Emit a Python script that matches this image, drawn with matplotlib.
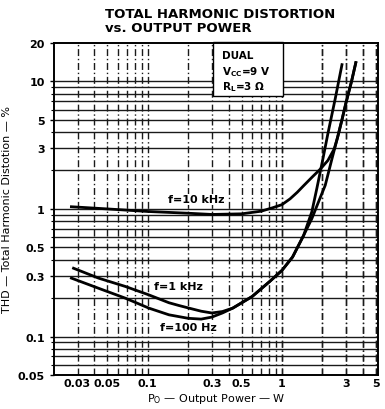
import numpy as np
import matplotlib
matplotlib.use("Agg")
import matplotlib.pyplot as plt
from matplotlib.ticker import FixedLocator, NullFormatter
from matplotlib.patches import Rectangle

plt.rcParams['mathtext.default'] = 'regular'
plt.rcParams['font.family'] = ['DejaVu Sans']

# THD curves (P in W, THD in %)
p_10k = [0.027, 0.05, 0.1, 0.2, 0.3, 0.5, 0.7, 0.85, 1.0, 1.15, 1.3, 1.45, 1.7, 1.93,
         2.2, 2.45, 2.6, 2.8, 3.0, 3.3, 3.55]
thd_10k = [1.04, 1.0, 0.955, 0.925, 0.905, 0.915, 0.96, 1.02, 1.08, 1.2, 1.35, 1.52, 1.8, 2.05,
           2.4, 2.95, 3.65, 5.0, 6.8, 10.0, 14.0]

p_1k = [0.028, 0.043, 0.068, 0.102, 0.144, 0.171, 0.203, 0.25, 0.30, 0.36, 0.43, 0.6,
        0.81, 1.0, 1.2, 1.45, 1.67, 1.82, 2.0, 2.2, 2.5, 2.8]
thd_1k = [0.343, 0.287, 0.247, 0.212, 0.184, 0.175, 0.167, 0.158, 0.153, 0.157, 0.167, 0.206,
          0.27, 0.33, 0.42, 0.62, 0.95, 1.45, 2.35, 3.9, 7.4, 13.5]

p_100 = [0.027, 0.043, 0.068, 0.102, 0.144, 0.2, 0.25, 0.3, 0.36, 0.43, 0.6, 0.81, 1.0,
         1.2, 1.45, 1.67, 1.85, 2.1, 2.36, 2.58, 2.8, 3.0, 3.3, 3.55]
thd_100 = [0.287, 0.239, 0.2, 0.167, 0.148, 0.139, 0.137, 0.142, 0.153, 0.167, 0.206, 0.27, 0.33,
           0.42, 0.62, 0.84, 1.1, 1.53, 2.48, 3.55, 5.0, 6.8, 10.0, 14.0]

x_ticks = [0.03, 0.05, 0.1, 0.3, 0.5, 1, 3, 5]
x_labels = ["0.03", "0.05", "0.1", "0.3", "0.5", "1", "3", "5"]
y_ticks = [0.05, 0.1, 0.3, 0.5, 1, 3, 5, 10, 20]
y_labels = ["0.05", "0.1", "0.3", "0.5", "1", "3", "5", "10", "20"]

fig = plt.figure(figsize=(3.85, 4.10), dpi=100)
ax = fig.add_axes([0.140, 0.083, 0.842, 0.810])
ax.set_xscale('log')
ax.set_yscale('log')
ax.set_xlim(0.02, 5.2)
ax.set_ylim(0.05, 20)

# grid: solid horizontals, broken verticals
yg = [m * 10.0**e for e in range(-2, 2) for m in range(1, 10)]
yg = [v for v in yg if 0.05 < v < 20]
xg = [m * 10.0**e for e in range(-2, 1) for m in range(1, 10)] + [1, 2, 3, 4, 5]
xg = [v for v in xg if 0.025 < v <= 5]
for v in yg:
    ax.axhline(v, color='#1a1a1a', lw=1.0, zorder=1)
for v in xg:
    ax.axvline(v, color='#1a1a1a', lw=1.0, ls=(0, (5, 2, 1, 2)), zorder=1)

for px, py in [(p_10k, thd_10k), (p_1k, thd_1k), (p_100, thd_100)]:
    ax.plot(px, py, color='black', lw=2.0, zorder=3, solid_joinstyle='round')

lab_kw = dict(ha='center', va='center', fontsize=8, fontweight='bold', zorder=4)
ax.text(0.229, 1.19, "f=10 kHz", bbox=dict(fc='white', ec='none', pad=0.3), **lab_kw)
ax.text(0.17, 0.25, "f=1 kHz", bbox=dict(fc='white', ec='none', pad=0.3), **lab_kw)
ax.text(0.2, 0.118, "f=100 Hz", bbox=dict(fc='white', ec='none', pad=0.3), **lab_kw)

# condition box
ax.add_patch(Rectangle((0.491, 0.840), 0.216, 0.162, transform=ax.transAxes,
                       fc='white', ec='black', lw=1.0, zorder=5, clip_on=False))
ax.text(0.519, 0.964, "DUAL", transform=ax.transAxes, fontsize=7.5,
        fontweight='bold', va='center', zorder=6)
ax.text(0.519, 0.916, "V$_{CC}$=9 V", transform=ax.transAxes, fontsize=7.5,
        fontweight='bold', va='center', zorder=6)
ax.text(0.519, 0.870, "R$_{L}$=3 \u03a9", transform=ax.transAxes, fontsize=7.5,
        fontweight='bold', va='center', zorder=6)

ax.xaxis.set_major_locator(FixedLocator(x_ticks))
ax.set_xticklabels(x_labels)
ax.xaxis.set_minor_locator(FixedLocator([]))
ax.yaxis.set_major_locator(FixedLocator(y_ticks))
ax.set_yticklabels(y_labels)
ax.yaxis.set_minor_locator(FixedLocator(yg))
ax.yaxis.set_minor_formatter(NullFormatter())
ax.tick_params(axis='both', which='major', labelsize=8, length=3, width=1, direction='out')
ax.tick_params(axis='y', which='minor', length=2, width=0.8)
ax.tick_params(axis='x', which='major', length=0, pad=2)
for lab in ax.get_xticklabels() + ax.get_yticklabels():
    lab.set_fontweight('bold')
for s in ax.spines.values():
    s.set_linewidth(1.4)
    s.set_zorder(7)

ax.set_xlabel("P$_O$ \u2014 Output Power \u2014 W", fontsize=8, labelpad=2)
ax.set_ylabel("THD \u2014 Total Harmonic Distotion \u2014 %", fontsize=8, labelpad=4)

fig.text(0.273, 0.965, "TOTAL HARMONIC DISTORTION", fontsize=9.5,
         fontweight='bold', va='center', ha='left')
fig.text(0.273, 0.930, "vs. OUTPUT POWER", fontsize=9.5,
         fontweight='bold', va='center', ha='left')

fig.savefig("out.png", dpi=100)
